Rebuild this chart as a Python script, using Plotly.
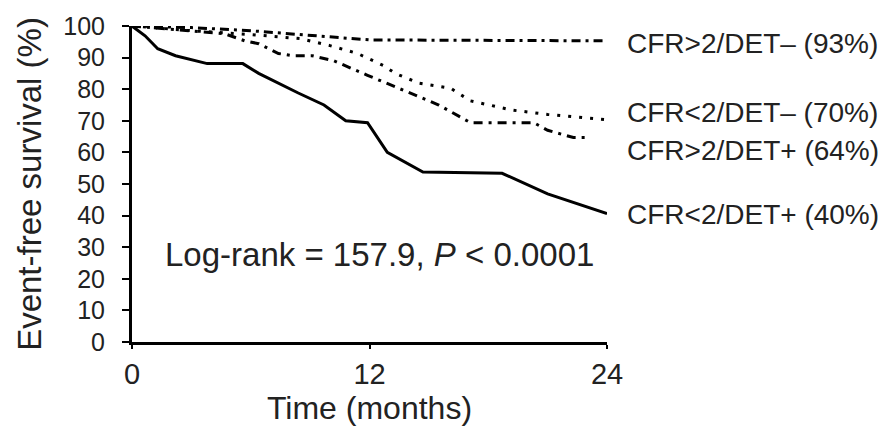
import plotly.graph_objects as go

# Kaplan-Meier style curves (months, % event-free)
t_pn = [0, 3, 6, 8, 10, 12, 16, 20, 24]
s_pn = [100, 99.5, 98.5, 97.5, 96.5, 95.6, 95.5, 95.4, 95.3]      # CFR>2/DET-

t_ln = [0, 3, 6, 8.5, 10, 11.4, 12.7, 13.3, 14.5, 16.1, 17.1, 19.2, 21, 24]
s_ln = [100, 98.5, 97.3, 96, 93.8, 91.3, 87.5, 85, 81.9, 80.3, 76.3, 73.4, 72, 70.3]  # CFR<2/DET-

t_pp = [0, 2, 4.7, 5.7, 6.4, 7.4, 8.1, 9.1, 10.2, 11.9, 13.7, 15.5, 17.1, 20.3, 21, 22.3, 23]
s_pp = [100, 99, 97.5, 95.3, 94.4, 91.3, 90.6, 90.6, 89, 84.4, 79.7, 75, 69.4, 69.4, 67, 64.7, 64.7]  # CFR>2/DET+

t_lp = [0, 0.66, 1.3, 2.2, 3.8, 5.6, 6.4, 7.2, 8.4, 9.7, 10.8, 11.9, 12.9, 14.7, 18.7, 21, 24]
s_lp = [100, 96.9, 92.8, 90.6, 88.1, 88.1, 85, 82.5, 78.8, 75, 70, 69.4, 60, 53.8, 53.4, 46.9, 40.6]  # CFR<2/DET+

labels = ["CFR>2/DET\u2013 (93%)", "CFR<2/DET\u2013 (70%)", "CFR>2/DET+ (64%)", "CFR<2/DET+ (40%)"]
label_y = [94.4, 72.5, 60.6, 40.3]

x_ticks = [0, 12, 24]
y_ticks = list(range(0, 101, 10))

FONT = "Liberation Sans, Arial, sans-serif"
TXT = "#222222"

fig = go.Figure()
fig.add_trace(go.Scatter(x=t_pn, y=s_pn, mode="lines",
                         line=dict(color="black", width=3, dash="9px,5px,3px,5px")))
fig.add_trace(go.Scatter(x=t_ln, y=s_ln, mode="lines",
                         line=dict(color="black", width=3, dash="3px,8px")))
fig.add_trace(go.Scatter(x=t_pp, y=s_pp, mode="lines",
                         line=dict(color="black", width=3, dash="9px,6px,3px,6px")))
fig.add_trace(go.Scatter(x=t_lp, y=s_lp, mode="lines",
                         line=dict(color="black", width=3)))

for lab, yv in zip(labels, label_y):
    fig.add_annotation(x=1.038, xref="paper", y=yv, yref="y", text=lab,
                       showarrow=False, xanchor="left", yanchor="middle",
                       font=dict(family=FONT, size=28, color=TXT))

fig.add_annotation(x=0.066, xref="paper", y=27.8, yref="y",
                   text="Log-rank = 157.9, <i>P</i> < 0.0001",
                   showarrow=False, xanchor="left", yanchor="middle",
                   font=dict(family=FONT, size=33, color=TXT))

fig.update_layout(
    width=891, height=430,
    margin=dict(l=132, r=284, t=22, b=88),
    plot_bgcolor="white", paper_bgcolor="white",
    showlegend=False,
    font=dict(family=FONT, color=TXT),
)
fig.update_xaxes(range=[0, 24], tickvals=x_ticks, ticktext=[str(v) for v in x_ticks],
                 showgrid=False, zeroline=False, showline=True, linecolor="black",
                 linewidth=3, ticks="outside", ticklen=4, tickwidth=2, tickcolor="black",
                 tickfont=dict(family=FONT, size=29, color=TXT),
                 title=dict(text="Time (months)", font=dict(family=FONT, size=32, color=TXT),
                            standoff=2))
fig.update_yaxes(range=[0, 100], tickvals=y_ticks,
                 showgrid=False, zeroline=False, showline=True, linecolor="black",
                 linewidth=3, ticks="outside", ticklen=7, tickwidth=2, tickcolor="black",
                 ticklabelstandoff=12,
                 tickfont=dict(family=FONT, size=25, color=TXT),
                 title=dict(text="Event-free survival (%)", font=dict(family=FONT, size=33, color=TXT),
                            standoff=12))

fig.write_html("out.html")
